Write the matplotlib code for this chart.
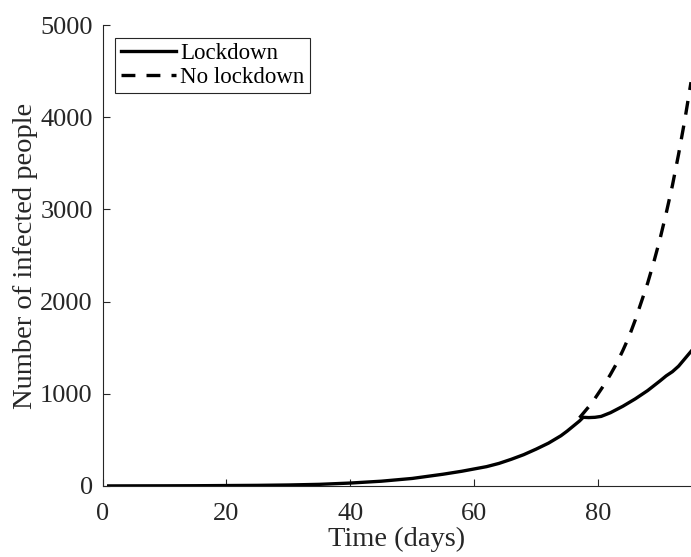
import matplotlib
matplotlib.use("Agg")
import matplotlib.pyplot as plt

# Lockdown curve (days, infected)
lock_days = [1, 5, 10, 15, 20, 25, 30, 35, 40, 45, 50, 55, 58, 60, 62, 64, 66, 68,
             70, 72, 74, 75, 76, 77, 77.6, 78.5, 79.5, 80.5, 82, 84, 86, 88, 90,
             91, 92, 93, 94, 95]
lock_vals = [1, 1.5, 2, 3, 5, 7, 11, 18, 32, 52, 82, 128, 160, 185, 210, 245, 290, 340,
             400, 465, 545, 595, 650, 705, 745, 742, 745, 755, 795, 865, 945, 1035, 1140,
             1195, 1240, 1300, 1380, 1460]

# No lockdown curve, branching at the lockdown date
nolock_days = [77, 78, 79, 80, 81, 82, 83, 84, 85, 86, 87, 88, 89, 90, 91, 92, 93, 94, 95]
nolock_vals = [740, 820, 900, 1000, 1100, 1210, 1330, 1470, 1620, 1800, 2000, 2200,
               2430, 2680, 2960, 3260, 3600, 3970, 4380]

plt.rcParams["font.family"] = ["Liberation Serif", "DejaVu Serif"]
plt.rcParams["lines.scale_dashes"] = False

fig = plt.figure(figsize=(6.91, 5.57), dpi=100)
ax = fig.add_axes([102.5 / 691, 71 / 557, 1 - 102.5 / 691, 461 / 557])

ax.plot(lock_days, lock_vals, color="black", lw=2.4, label="Lockdown")
ax.plot(nolock_days, nolock_vals, color="black", lw=2.4, dashes=(10, 8),
        dash_capstyle="butt", label="No lockdown")

ax.set_xlim(0, 95)
ax.set_ylim(0, 5000)
ax.set_xticks([0, 20, 40, 60, 80])
ax.set_yticks([0, 1000, 2000, 3000, 4000, 5000])

for side in ("top", "right"):
    ax.spines[side].set_visible(False)
for side in ("left", "bottom"):
    ax.spines[side].set_color("#262626")
    ax.spines[side].set_linewidth(0.8)
ax.tick_params(direction="in", length=5, width=0.8, color="#262626",
               labelsize=19, labelcolor="#262626")
ax.tick_params(axis="x", pad=12.5)
ax.tick_params(axis="y", pad=7)

ax.set_xlabel("Time (days)", fontsize=20.5, color="#262626", labelpad=1)
ax.set_ylabel("Number of infected people", fontsize=20.5, color="#262626", labelpad=1.5)

leg = ax.legend(loc="upper left", fontsize=16.5, frameon=True, fancybox=False,
                framealpha=1, edgecolor="#262626", handlelength=2.4,
                borderpad=0.25, labelspacing=0.1, handletextpad=0.2,
                borderaxespad=0.55)
leg.get_frame().set_linewidth(0.8)

fig.savefig("out.png", dpi=100)
